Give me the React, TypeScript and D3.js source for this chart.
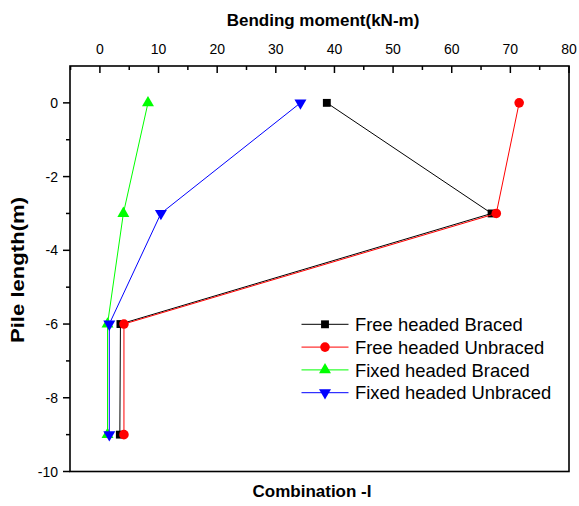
import React from "react";
import * as d3 from "d3";

const depths = [0, -3, -6, -9];
const freeBraced = [38.7, 66.8, 3.5, 3.4];
const freeUnbraced = [71.5, 67.6, 4.1, 4.1];
const fixedBraced = [8.2, 4.0, 1.3, 1.3];
const fixedUnbraced = [34.2, 10.4, 1.6, 1.6];

const seriesNames = [
  "Free headed Braced",
  "Free headed Unbraced",
  "Fixed headed Braced",
  "Fixed headed Unbraced",
];
const seriesColors = ["#000000", "#ff0000", "#00ff00", "#0000ff"];
const seriesValues = [freeBraced, freeUnbraced, fixedBraced, fixedUnbraced];
const seriesSymbols = [d3.symbolSquare, d3.symbolCircle, d3.symbolTriangle, d3.symbolTriangle];

const xTicks = [0, 10, 20, 30, 40, 50, 60, 70, 80];
const yTicks = [0, -2, -4, -6, -8, -10];

const W = 579;
const H = 506;
const left = 70;
const right = 569;
const top = 66;
const bottom = 471.5;

const font = "Arial, 'Liberation Sans', sans-serif";

export default function App() {
  const x = d3.scaleLinear().domain([-5.1, 80]).range([left, right]);
  const y = d3.scaleLinear().domain([-10, 1]).range([bottom, top]);

  const line = d3
    .line<[number, number]>()
    .x((d) => x(d[0]))
    .y((d) => y(d[1]));

  const xMinor = d3.range(-5, 81, 5).filter((v) => v % 10 !== 0);
  const yMinor = d3.range(-9, 1, 2);

  const legX = 301.5;
  const legY = 324.3;
  const legStep = 22.8;

  const symSize = (i: number) => (i === 1 ? 72 : 62);

  return (
    <svg
      width={W}
      height={H}
      style={{ position: "absolute", left: 0, top: 0, background: "#fff" }}
      fontFamily={font}
    >
      {/* series */}
      {seriesValues.map((vals, i) => {
        const pts = vals.map((v, j) => [v, depths[j]] as [number, number]);
        const sym = d3.symbol().type(seriesSymbols[i]).size(symSize(i));
        return (
          <g key={i}>
            <path d={line(pts) ?? ""} fill="none" stroke={seriesColors[i]} strokeWidth={1} />
            {pts.map((p, j) => (
              <path
                key={j}
                d={sym() ?? ""}
                fill={seriesColors[i]}
                transform={`translate(${x(p[0])},${y(p[1])})${i === 3 ? " rotate(180)" : ""}`}
              />
            ))}
          </g>
        );
      })}

      {/* frame */}
      <rect x={left} y={top} width={right - left} height={bottom - top} fill="none" stroke="#000" strokeWidth={1.6} />

      {/* top axis, ticks inward */}
      {xTicks.map((t) => (
        <g key={t}>
          <line x1={x(t)} x2={x(t)} y1={top} y2={top + 7} stroke="#000" strokeWidth={1.5} />
          <text x={x(t)} y={54} textAnchor="middle" fontSize={14}>
            {t}
          </text>
        </g>
      ))}
      {xMinor.map((t) => (
        <line key={t} x1={x(t)} x2={x(t)} y1={top} y2={top + 4} stroke="#000" strokeWidth={1.5} />
      ))}

      {/* left axis, ticks outward */}
      {yTicks.map((t) => (
        <g key={t}>
          <line x1={left - 7} x2={left} y1={y(t)} y2={y(t)} stroke="#000" strokeWidth={1.5} />
          <text x={left - 12} y={y(t)} dy="0.36em" textAnchor="end" fontSize={14}>
            {t}
          </text>
        </g>
      ))}
      {yMinor.map((t) => (
        <line key={t} x1={left - 4} x2={left} y1={y(t)} y2={y(t)} stroke="#000" strokeWidth={1.5} />
      ))}

      {/* labels */}
      <text x={323} y={26} textAnchor="middle" fontSize={17} fontWeight="bold">
        Bending moment(kN-m)
      </text>
      <text x={312} y={497} textAnchor="middle" fontSize={17} fontWeight="bold">
        Combination -I
      </text>
      <text
        transform={`translate(24,270) rotate(-90)`}
        textAnchor="middle"
        fontSize={18}
        fontWeight="bold"
        textLength={146}
        lengthAdjust="spacingAndGlyphs"
      >
        Pile length(m)
      </text>

      {/* legend */}
      {seriesNames.map((name, i) => {
        const yy = legY + i * legStep;
        const sym = d3.symbol().type(seriesSymbols[i]).size(symSize(i));
        return (
          <g key={name}>
            <line x1={legX} x2={legX + 47} y1={yy} y2={yy} stroke={seriesColors[i]} strokeWidth={1} />
            <path
              d={sym() ?? ""}
              fill={seriesColors[i]}
              transform={`translate(${legX + 23.5},${yy})${i === 3 ? " rotate(180)" : ""}`}
            />
            <text x={355} y={yy} dy="0.36em" fontSize={18.4}>
              {name}
            </text>
          </g>
        );
      })}
    </svg>
  );
}
